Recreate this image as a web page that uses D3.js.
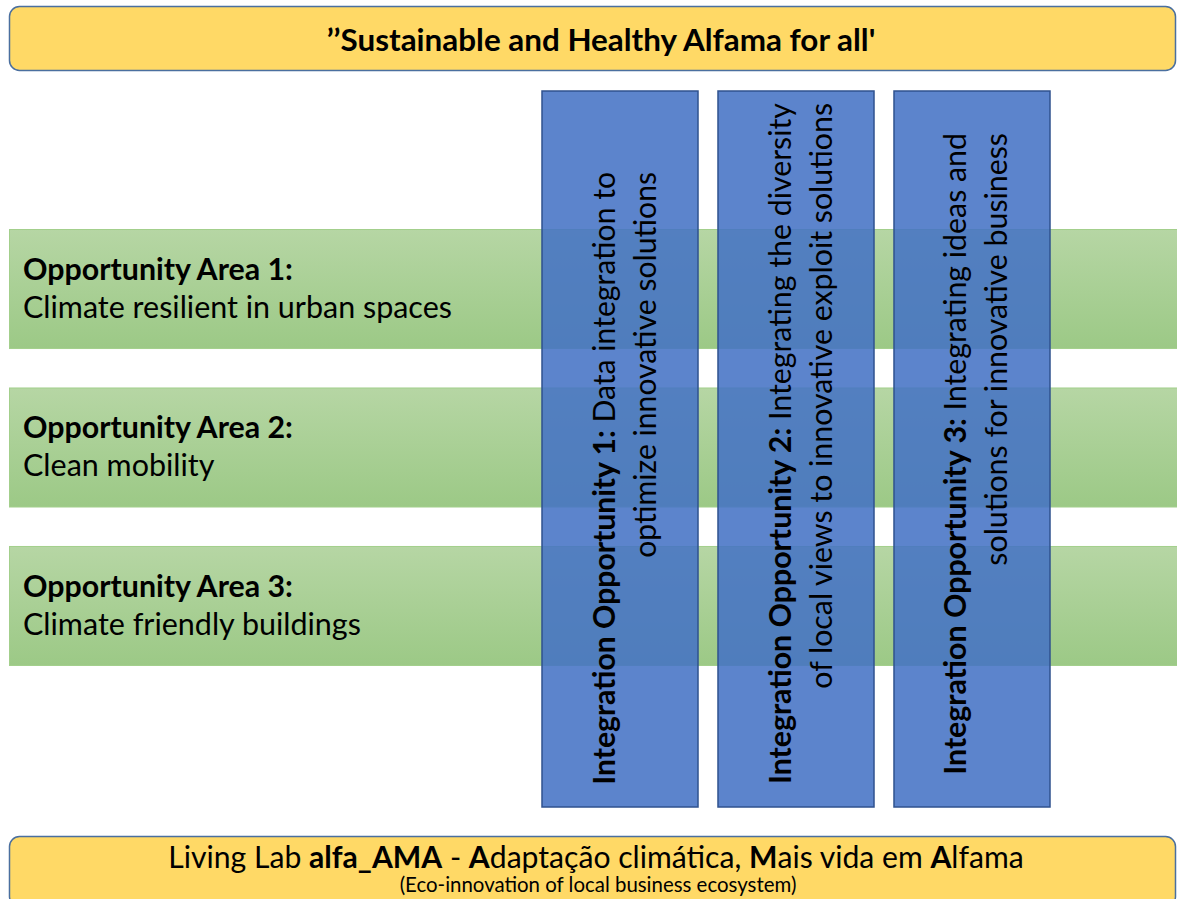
<!DOCTYPE html>
<html>
<head>
<meta charset="utf-8">
<script src="https://cdn.jsdelivr.net/npm/d3@7"></script>
<style>
  html, body { margin: 0; padding: 0; background: #fff; }
  svg { display: block; }
  text { font-family: Lato, "Open Sans", sans-serif; fill: #000; }
</style>
</head>
<body>
<div id="chart"></div>
<script>
// Content of the diagram
const headline = "’’Sustainable and Healthy Alfama for all'";
const areaTitles = ["Opportunity Area 1:", "Opportunity Area 2:", "Opportunity Area 3:"];
const areaTexts = ["Climate resilient in urban spaces", "Clean mobility", "Climate friendly buildings"];
const opportunityTitles = ["Integration Opportunity 1:", "Integration Opportunity 2:", "Integration Opportunity 3:"];
const opportunityLine1 = [" Data integration to", " Integrating the diversity", " Integrating ideas and"];
const opportunityLine2 = ["optimize innovative solutions", "of local views to innovative exploit solutions", "solutions for innovative business"];
// footer pieces: [text, bold?]
const footerParts = [
    ["Living Lab ", false], ["alfa_AMA", true], [" - ", false], ["A", true],
    ["daptação climática, ", false], ["M", true], ["ais vida em ", false],
    ["A", true], ["lfama", false]
];
const footerSub = "(Eco-innovation of local business ecosystem)";

const width = 1177;
const height = 899;

const svg = d3.select("#chart")
    .append("svg")
    .attr("width", width)
    .attr("height", height);

const defs = svg.append("defs");
const grad = defs.append("linearGradient")
    .attr("id", "greenGrad")
    .attr("x1", 0).attr("y1", 0).attr("x2", 0).attr("y2", 1);
grad.append("stop").attr("offset", "0%").attr("stop-color", "#b6d6a4");
grad.append("stop").attr("offset", "100%").attr("stop-color", "#9cc986");

// scale text so it spans a given width
function fitWidth(sel, target) {
    const fs = parseFloat(sel.attr("font-size"));
    const w = sel.node().getBBox().width;
    sel.attr("font-size", fs * target / w);
    return fs * target / w;
}

// Scales for the bands (rows) and columns
const y = d3.scaleBand()
    .domain(areaTitles)
    .range([229, 665])
    .paddingInner(0.249)
    .paddingOuter(0);

const x = d3.scaleBand()
    .domain(opportunityTitles)
    .range([542, 1050])
    .paddingInner(0.1136)
    .paddingOuter(0);

// Top banner
svg.append("rect")
    .attr("x", 9.5).attr("y", 6.5)
    .attr("width", 1166).attr("height", 64)
    .attr("rx", 10)
    .attr("fill", "#ffd966")
    .attr("stroke", "#4a6f9f")
    .attr("stroke-width", 1.5);

const head = svg.append("text")
    .attr("x", 601).attr("y", 51)
    .attr("text-anchor", "middle")
    .attr("font-size", 28)
    .attr("font-weight", "bold")
    .text(headline);
fitWidth(head, 549);

// Green bands
svg.selectAll("rect.area")
    .data(areaTitles)
    .enter()
    .append("rect")
    .attr("class", "area")
    .attr("x", 9.5)
    .attr("y", d => y(d) + 0.5)
    .attr("width", 1180)
    .attr("height", y.bandwidth())
    .attr("fill", "url(#greenGrad)")
    .attr("stroke", "#a3cf8c")
    .attr("stroke-width", 1);

const areaTitleWidths = [270, 270, 270];
const areaTextWidths = [429, 192, 338];

areaTitles.forEach((t, i) => {
    const a = svg.append("text")
        .attr("x", 23).attr("y", y(t) + 51)
        .attr("font-size", 30)
        .attr("font-weight", "bold")
        .text(t);
    fitWidth(a, areaTitleWidths[i]);
    const b = svg.append("text")
        .attr("x", 23).attr("y", y(t) + 89)
        .attr("font-size", 30)
        .text(areaTexts[i]);
    fitWidth(b, areaTextWidths[i]);
});

// Blue columns
svg.selectAll("rect.opp")
    .data(opportunityTitles)
    .enter()
    .append("rect")
    .attr("class", "opp")
    .attr("x", d => x(d))
    .attr("y", 91)
    .attr("width", x.bandwidth())
    .attr("height", 716)
    .attr("fill", "#4472c4")
    .attr("fill-opacity", 0.87)
    .attr("stroke", "#2f528f")
    .attr("stroke-width", 1.5);

// vertical text, right-aligned towards the top
const lineStart = [785, 785, 775];
const lineEnd = [172, 103, 133];

opportunityTitles.forEach((t, i) => {
    const cx = x(t) + x.bandwidth() / 2;
    const l1 = svg.append("text")
        .attr("transform", `translate(${cx - 5.5},${lineEnd[i]}) rotate(-90)`)
        .attr("text-anchor", "end")
        .attr("font-size", 30);
    l1.append("tspan").attr("font-weight", "bold").text(t);
    l1.append("tspan").text(opportunityLine1[i]);
    const fs = fitWidth(l1, lineStart[i] - lineEnd[i]);

    svg.append("text")
        .attr("transform", `translate(${cx + 35.5},${lineEnd[i]}) rotate(-90)`)
        .attr("text-anchor", "end")
        .attr("font-size", fs)
        .text(opportunityLine2[i]);
});

// Bottom banner
svg.append("rect")
    .attr("x", 9.5).attr("y", 836.5)
    .attr("width", 1166).attr("height", 70)
    .attr("rx", 10)
    .attr("fill", "#ffd966")
    .attr("stroke", "#4a6f9f")
    .attr("stroke-width", 1.5);

const foot = svg.append("text")
    .attr("x", 596).attr("y", 868)
    .attr("text-anchor", "middle")
    .attr("font-size", 26);
foot.selectAll("tspan")
    .data(footerParts)
    .enter()
    .append("tspan")
    .attr("font-weight", d => d[1] ? "bold" : "normal")
    .text(d => d[0]);
fitWidth(foot, 856);

const sub = svg.append("text")
    .attr("x", 598).attr("y", 892)
    .attr("text-anchor", "middle")
    .attr("font-size", 16)
    .text(footerSub);
fitWidth(sub, 397);
</script>
</body>
</html>
